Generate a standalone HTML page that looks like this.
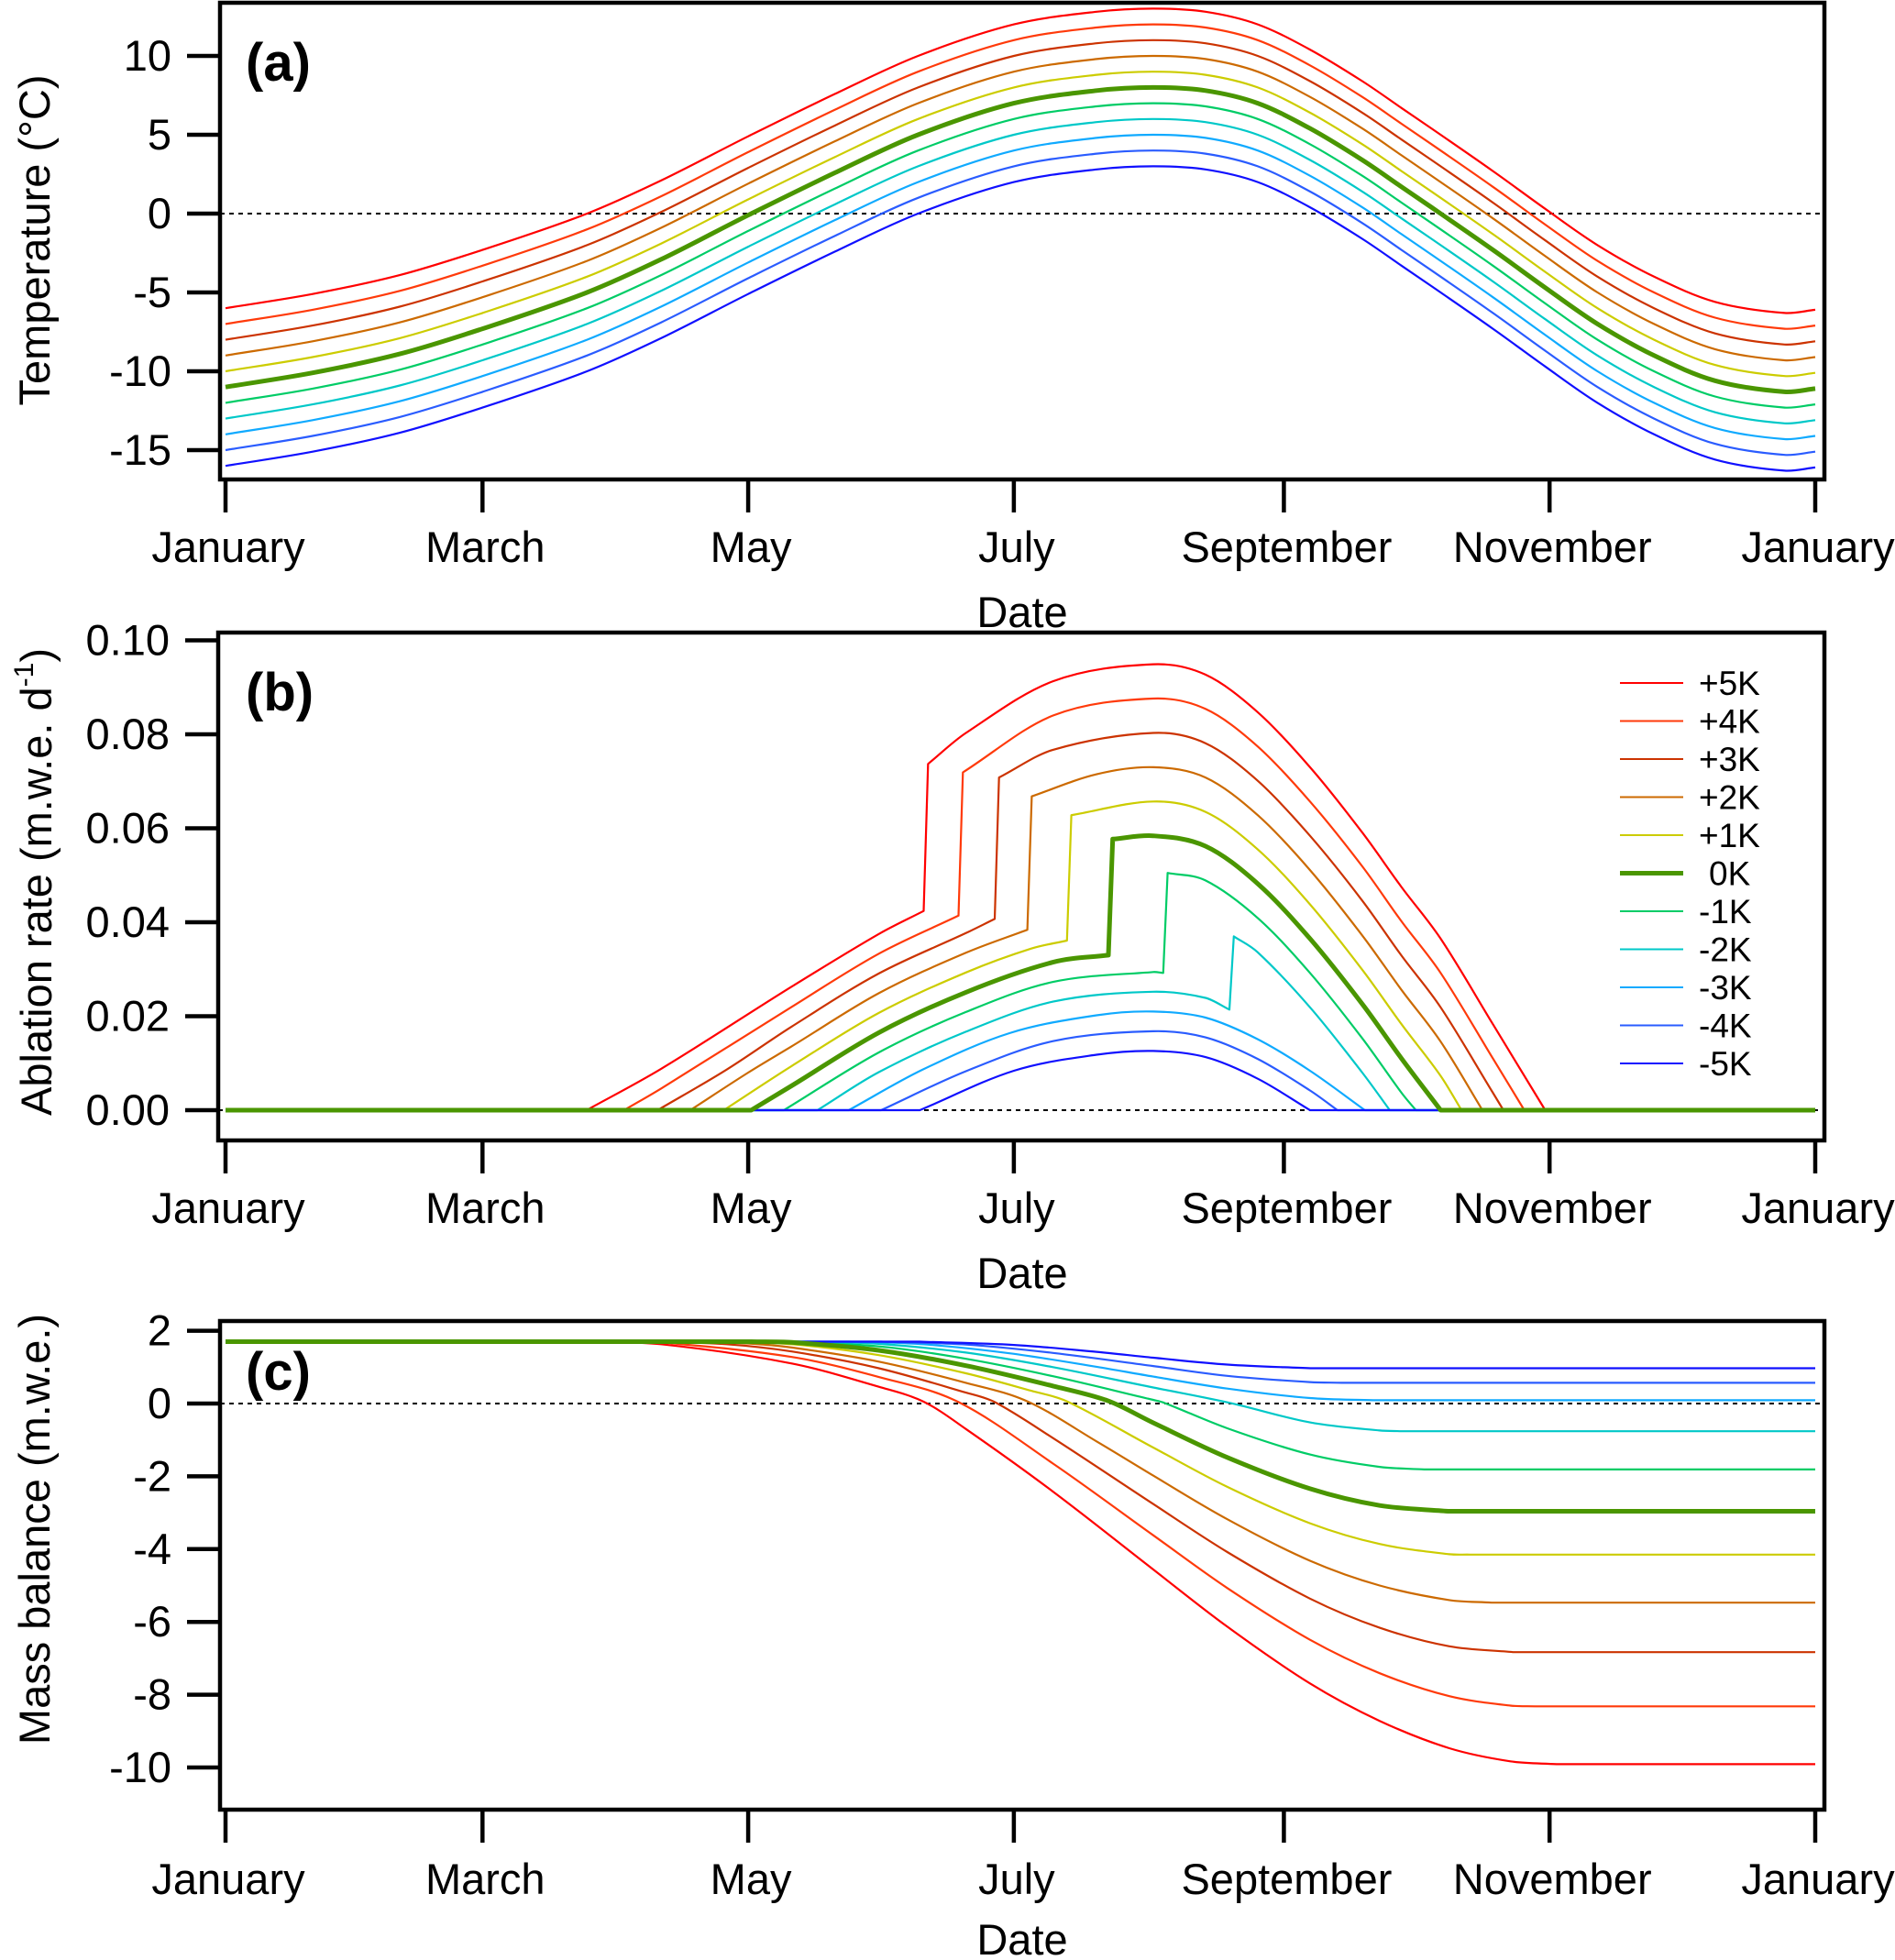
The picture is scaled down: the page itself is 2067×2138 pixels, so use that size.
<!DOCTYPE html>
<html><head><meta charset="utf-8"><title>Temperature, ablation and mass balance</title>
<style>
html,body{margin:0;padding:0;background:#fff;}
svg{display:block;font-family:"Liberation Sans",Arial,sans-serif;}
</style></head>
<body>
<svg id="fig" width="2067" height="2138" viewBox="0 0 2067 2138" xmlns="http://www.w3.org/2000/svg"></svg>
<script>
// ---------- DATA ----------
const seriesLabels = ["+5K","+4K","+3K","+2K","+1K","0K","-1K","-2K","-3K","-4K","-5K"];
const seriesOffsets = [5,4,3,2,1,0,-1,-2,-3,-4,-5];
const seriesColors = ["#ff0000","#ff3a0a","#cc3300","#cc6a00","#cccc00","#4a9600","#00cc66","#00c8c8","#10aaff","#2a5cff","#1010ff"];
const monthTicks = [0,59,120,181,243,304,365];
const monthLabels = ["January","March","May","July","September","November","January"];

// (a) baseline 0K temperature, other scenarios offset by seriesOffsets
const tempDays = [0,20,40,59,83,100,120,140,159,181,200,213,225,237,249,261,270,279,291,303,315,328,342,358,365];
const tempBase = [-11,-10.1,-8.9,-7.3,-5,-2.9,-0.1,2.6,5,7,7.8,8,7.8,7.0,5.4,3.4,1.7,0,-2.3,-4.7,-7.0,-9.0,-10.6,-11.3,-11.1];
const tempTicks = [10,5,0,-5,-10,-15];

// (b) ablation rate
const ablDays = [
 [0,82.9,100,130,150,160.3,161.3,170,190,213,225,237,249,261,270,279,291,303,365],
 [0,91.5,100,130,150,168.3,169.3,190,213,225,237,249,261,270,279,291,298.2,365],
 [0,99.2,115,130,150,170,176.6,177.6,190,213,225,237,249,261,270,279,291,293.4,365],
 [0,106.7,120,130,150,170,184.1,185.1,200,213,225,237,249,261,270,279,288.6,365],
 [0,114.4,130,150,170,185,193.2,194.2,213,225,237,249,261,270,279,283.8,365],
 [0,120.7,130,150,170,190,202.7,203.7,213,225,237,249,261,270,279,365],
 [0,128.2,150,170,190,213,215.3,216.3,225,237,249,261,270,273.3,365],
 [0,135.9,150,170,190,213,225,230.5,231.5,237,249,261,267.3,365],
 [0,143.1,160,180,200,213,225,237,249,261.6,365],
 [0,150.5,170,190,213,225,237,249,255.3,365],
 [0,159.4,181,200,213,225,237,249,365]
];
const ablVals = [
 [0,0,.0088,.0263,.0375,.0424,.0737,.0803,.0913,.0949,.0927,.0847,.073,.0591,.0475,.0365,.0183,0,0],
 [0,0,.0046,.022,.0333,.0414,.0719,.084,.0876,.0854,.0774,.0657,.0519,.0402,.0292,.011,0,0],
 [0,0,.0086,.0178,.0291,.0377,.0407,.0708,.0767,.0803,.0781,.0701,.0584,.0446,.0329,.0219,.0037,0,0],
 [0,0,.008,.0136,.0249,.0335,.0384,.0668,.0715,.073,.0708,.0628,.0511,.0372,.0256,.0146,0,0],
 [0,0,.0094,.0207,.0293,.0344,.0361,.0628,.0657,.0635,.0555,.0438,.0299,.0183,.0073,0,0],
 [0,0,.0052,.0165,.0251,.0315,.033,.0577,.0584,.0562,.0482,.0365,.0226,.011,0,0],
 [0,0,.0123,.0209,.0273,.0294,.0292,.0505,.0489,.0409,.0292,.0153,.0037,0,0],
 [0,0,.0081,.0167,.0231,.0252,.0239,.0214,.037,.0336,.0219,.008,0,0],
 [0,0,.0086,.0164,.0202,.021,.0197,.0151,.0084,0,0],
 [0,0,.0083,.0147,.0168,.0155,.0109,.0042,0,0],
 [0,0,.0084,.0118,.0126,.0113,.0067,0,0]
];
const ablTicks = [0.10,0.08,0.06,0.04,0.02,0.00];

// (c) mass balance
const mbDays = [
 [0,82.9,100,130,150,160.3,170,190,213,230,249,265,281,295,305.6,365],
 [0,91.5,100,130,150,168.3,190,213,230,249,265,281,295,300.7,365],
 [0,99.2,115,130,150,170,176.6,190,213,230,249,265,281,295.6,365],
 [0,106.7,120,130,150,170,184.1,200,213,230,249,265,281,290.7,365],
 [0,114.4,130,150,170,185,193.2,213,230,249,265,281,285.8,365],
 [0,120.7,130,150,170,190,202.7,213,230,249,265,280.7,365],
 [0,128.2,150,170,190,213,215.3,230,249,265,275.2,365],
 [0,135.9,150,170,190,213,230.5,249,265,270.1,365],
 [0,143.1,160,180,200,213,230,249,263.5,365],
 [0,150.5,170,190,213,230,249,256.3,365],
 [0,159.4,181,200,213,230,249.1,365]
];
const mbVals = [
 [1.7,1.7,1.63,1.1,.46,.05,-.70,-2.42,-4.56,-6.13,-7.69,-8.72,-9.47,-9.83,-9.91,-9.91],
 [1.7,1.7,1.68,1.28,.73,.04,-1.65,-3.62,-5.07,-6.49,-7.41,-8.04,-8.3,-8.32,-8.32],
 [1.7,1.7,1.63,1.43,.97,.30,.04,-.95,-2.76,-4.08,-5.36,-6.16,-6.67,-6.83,-6.83],
 [1.7,1.7,1.65,1.54,1.15,.57,.06,-1.04,-1.98,-3.18,-4.32,-5.0,-5.4,-5.47,-5.47],
 [1.7,1.7,1.63,1.33,.83,.35,.06,-1.21,-2.29,-3.29,-3.86,-4.14,-4.15,-4.15],
 [1.7,1.7,1.68,1.46,1.04,.48,.07,-.53,-1.48,-2.34,-2.8,-2.96,-2.96],
 [1.7,1.7,1.57,1.23,.75,.1,.03,-.68,-1.4,-1.74,-1.81,-1.81],
 [1.7,1.7,1.64,1.4,1.0,.44,.02,-.52,-.74,-.76,-.76],
 [1.7,1.7,1.63,1.38,1.01,.74,.41,.15,.09,.09],
 [1.7,1.7,1.62,1.39,1.03,.76,.59,.57,.57],
 [1.7,1.7,1.61,1.42,1.26,1.07,.97,.97]
];
const mbTicks = [2,0,-2,-4,-6,-8,-10];

// ---------- RENDER ----------
const NS = "http://www.w3.org/2000/svg";
const svg = document.getElementById("fig");
function el(tag, attrs, parent){
  const e = document.createElementNS(NS, tag);
  for (const k in attrs) e.setAttribute(k, attrs[k]);
  (parent||svg).appendChild(e);
  return e;
}
const xDay = d => 246 + d * (1980 - 246) / 365;

function crRun(xs, ys){
  const n = xs.length;
  let d = "";
  if (n < 3){ for (let i=1;i<n;i++) d += "L"+xs[i].toFixed(1)+","+ys[i].toFixed(1); return d; }
  const ty=[];
  for (let i=0;i<n;i++){
    const a = Math.max(0,i-1), b = Math.min(n-1,i+1);
    ty.push((ys[b]-ys[a])/(xs[b]-xs[a]));
  }
  for (let i=0;i<n-1;i++){
    const h = xs[i+1]-xs[i];
    d += "C"+(xs[i]+h/3).toFixed(1)+","+(ys[i]+ty[i]*h/3).toFixed(1)+" "+(xs[i+1]-h/3).toFixed(1)+","+(ys[i+1]-ty[i+1]*h/3).toFixed(1)+" "+xs[i+1].toFixed(1)+","+ys[i+1].toFixed(1);
  }
  return d;
}
function smoothPath(xs, ys){
  const n = xs.length;
  const brk = new Set([0, n-1]);
  for (let i=0;i<n-1;i++){ if (xs[i+1]-xs[i] < 6){ brk.add(i); brk.add(i+1); } }
  for (let i=1;i<n-1;i++){ if (ys[i]===ys[i-1] || ys[i]===ys[i+1]) brk.add(i); }
  const idx = [...brk].sort((a,b)=>a-b);
  let d = "M"+xs[0].toFixed(1)+","+ys[0].toFixed(1);
  for (let k=0;k<idx.length-1;k++){
    const a = idx[k], b = idx[k+1];
    d += crRun(xs.slice(a,b+1), ys.slice(a,b+1));
  }
  return d;
}

const FS = 47;
function panel(cfg){
  const g = el("g", {});
  
  
  const z = el("line", {x1:cfg.left, x2:cfg.right, y1:cfg.y(0), y2:cfg.y(0), stroke:"#000", "stroke-width":2, "stroke-dasharray":"5,5"}, g);
  
  
  const order = [0,1,2,3,4,6,7,8,9,10,5];
  for (const i of order){
    const xs = cfg.days[i].map(xDay);
    const ys = cfg.vals[i].map(cfg.y);
    const p = el("path", {d:smoothPath(xs, ys), fill:"none", stroke:seriesColors[i], "stroke-width": i===5?5:2.2, "stroke-linejoin":"round"}, g);
    
    
  }
  const fr = el("rect", {x:cfg.left, y:cfg.top, width:cfg.right-cfg.left, height:cfg.bottom-cfg.top, fill:"none", stroke:"#000", "stroke-width":4.5}, g);
  
  
  cfg.ticks.forEach(v => {
    const y = cfg.y(v);
    const tl = el("line", {x1:cfg.left-36, x2:cfg.left, y1:y, y2:y, stroke:"#000", "stroke-width":4.5}, g);
    
    
    const tx = el("text", {x:cfg.left-53, y:y+16, "text-anchor":"end", "font-size":FS}, g);
    tx.textContent = cfg.fmt(v);
    
    
  });
  monthTicks.forEach((d, k) => {
    const x = xDay(d);
    const tl = el("line", {x1:x, x2:x, y1:cfg.bottom, y2:cfg.bottom+36, stroke:"#000", "stroke-width":4.5}, g);
    
    
    const tx = el("text", {x:x+3, y:cfg.xlabY, "text-anchor":"middle", "font-size":FS}, g);
    tx.textContent = monthLabels[k];
    
    
  });
  const dt = el("text", {x:1115, y:cfg.dateY, "text-anchor":"middle", "font-size":FS}, g);
  dt.textContent = "Date";
  
  
  const pl = el("text", {x:268, y:cfg.labelY, "font-size":58, "font-weight":"bold"}, g);
  pl.textContent = cfg.label;
  
  
  return g;
}

const tempSeriesVals = seriesOffsets.map(o => tempBase.map(v => v + o));
const tempSeriesDays = seriesOffsets.map(() => tempDays);

panel({name:"panel-a-temperature", left:240, right:1990, top:3, bottom:523, y:v=>233 - v*17.2,
  days:tempSeriesDays, vals:tempSeriesVals, ticks:tempTicks, fmt:v=>String(v),
  xlabY:613, dateY:684, label:"(a)", labelY:88});
panel({name:"panel-b-ablation", left:238, right:1990, top:690, bottom:1244, y:v=>1211 - v*5125,
  days:ablDays, vals:ablVals, ticks:ablTicks, fmt:v=>v.toFixed(2),
  xlabY:1334, dateY:1405, label:"(b)", labelY:775});
panel({name:"panel-c-mass-balance", left:240, right:1990, top:1441, bottom:1974, y:v=>1531 - v*39.7,
  days:mbDays, vals:mbVals, ticks:mbTicks, fmt:v=>String(v),
  xlabY:2066, dateY:2132, label:"(c)", labelY:1516});

function ytitle(name, x, y, html){
  const t = el("text", {x:0, y:0, "text-anchor":"middle", "font-size":FS, transform:"translate("+x+","+y+") rotate(-90)"});
  t.innerHTML = html;
  
  
}
ytitle("y-axis-title-temperature", 54, 262, "Temperature (°C)");
ytitle("y-axis-title-ablation", 56, 962, 'Ablation rate (m.w.e. d<tspan dy="-20" font-size="30">-1</tspan><tspan dy="20">)</tspan>');
ytitle("y-axis-title-mass-balance", 54, 1668, "Mass balance  (m.w.e.)");

const lg = el("g", {});


seriesLabels.forEach((lab, i) => {
  const y = 745 + i*41.5;
  const ln = el("line", {x1:1767, x2:1836, y1:y, y2:y, stroke:seriesColors[i], "stroke-width": i===5?5:2}, lg);
  
  
  const tx = el("text", {x: i===5?1864:1853, y:y+13, "font-size":37}, lg);
  tx.textContent = lab;
  
  
});
</script>
</body></html>
